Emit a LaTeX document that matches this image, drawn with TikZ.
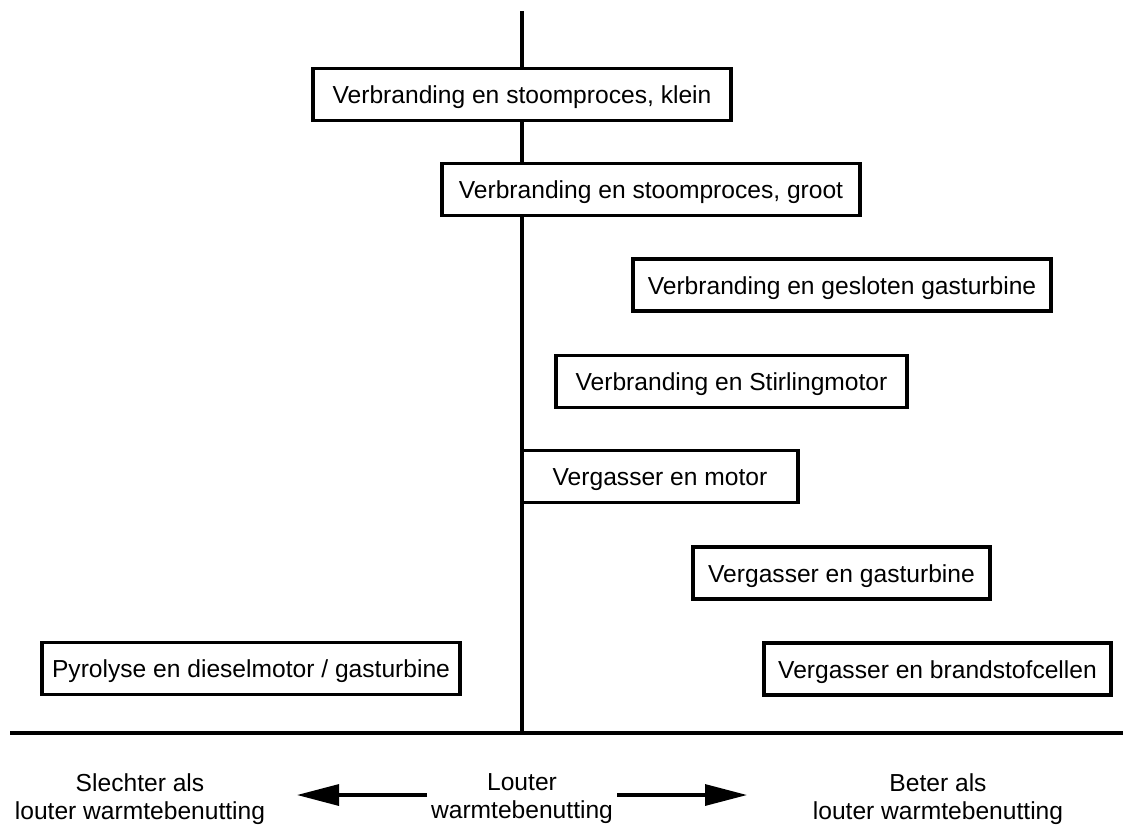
\documentclass[tikz,border=0pt]{standalone}
\usepackage{fontspec}
\setmainfont{Liberation Sans}
\usetikzlibrary{arrows.meta}
\begin{document}
\begin{tikzpicture}[x=1pt,y=-1pt,
  every node/.style={font=\fontsize{24.6}{28}\selectfont},
  procbox/.style={draw=black, line width=3.2pt, fill=white, inner sep=0pt,
    minimum height=52pt, text height=18pt, text depth=0pt, align=center},
  axis/.style={line width=3.2pt},
  caption/.style={align=center, inner sep=0pt, anchor=north},
  dirarrow/.style={line width=3.2pt, -{Triangle[length=42pt,width=21pt]}}]
\useasboundingbox (0,0) rectangle (1123,825);

% axes
\coordinate (top) at (522,11);
\coordinate (origin) at (522,733);
\coordinate (xleft) at (10,733);
\coordinate (xright) at (1123,733);
\draw[axis] (top) -- (origin);
\draw[axis] (xleft) -- (xright);

% process boxes
\node[procbox, minimum width=418pt] (klein) at (522,94.5) {Verbranding en stoomproces, klein};
\node[procbox, minimum width=418pt] (groot) at (651,189.5) {Verbranding en stoomproces, groot};
\node[procbox, minimum width=418pt] (gesloten) at (842,285) {Verbranding en gesloten gasturbine};
\node[procbox, minimum width=351pt] (stirling) at (731.5,381.5) {Verbranding en Stirlingmotor};
\node[procbox, minimum width=276pt] (vmotor) at (660,476.5) {Vergasser en motor};
\node[procbox, minimum width=297pt] (vgas) at (841.5,573) {Vergasser en gasturbine};
\node[procbox, minimum width=418pt] (pyro) at (251,668.5) {Pyrolyse en dieselmotor / gasturbine};
\node[procbox, minimum width=347pt] (brand) at (937.5,669) {Vergasser en brandstofcellen};

% horizontal scale captions
\node[caption] (worse) at (140,773) {Slechter als\\louter warmtebenutting};
\node[caption] (neutral) at (522,773) {Louter\\warmtebenutting};
\node[caption] (better) at (938,773) {Beter als\\louter warmtebenutting};

% direction arrows
\coordinate (lstart) at (427,795);
\coordinate (ltip) at (297,795);
\coordinate (rstart) at (617,795);
\coordinate (rtip) at (747,795);
\draw[dirarrow] (lstart) -- (ltip);
\draw[dirarrow] (rstart) -- (rtip);
\end{tikzpicture}
\end{document}
